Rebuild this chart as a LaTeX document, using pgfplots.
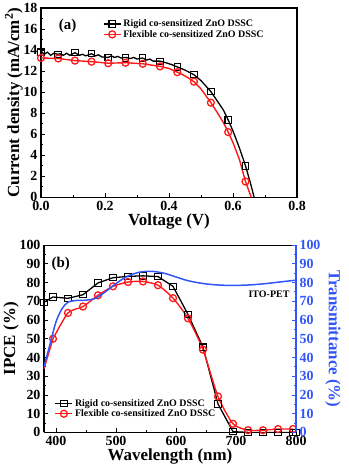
\documentclass[border=0pt]{standalone}
\usepackage{fontspec}
\setmainfont{Liberation Serif}
\usepackage{pgfplots}
\pgfplotsset{compat=1.18}
\definecolor{myred}{RGB}{255,25,25}
\definecolor{myblue}{RGB}{50,85,250}
\begin{document}
\begin{tikzpicture}[x=1pt,y=1pt]
\path (0,0) rectangle (349,468);
\pgfplotsset{
  every axis/.append style={
    scale only axis,
    font=\bfseries,
    tick label style={font=\fontsize{14}{14}\bfseries},
    label style={font=\fontsize{17}{17}\bfseries},
    /pgf/number format/assume math mode=true,
    tick align=inside,
    major tick length=4pt, minor tick length=2.5pt,
    every tick/.style={line width=0.9pt},
    axis line style={line width=1.2pt},
    minor tick num=1,
  },
  mylegend/.style={legend cell align=left, draw=none, fill=none,
    font=\fontsize{10}{11}\bfseries, row sep=-2pt,
    /tikz/every even column/.append style={column sep=1pt}},
}
% ---------------- (a) J-V ----------------
\begin{axis}[
  at={(40pt,271pt)}, anchor=south west,
  width=257pt, height=190pt,
  xmin=0, xmax=0.8, ymin=0, ymax=18,
  xtick={0,0.2,0.4,0.6,0.8}, ytick={0,2,...,18},
  xticklabel style={/pgf/number format/.cd, fixed, fixed zerofill, precision=1},
  xtick pos=left, ytick pos=left,
  xlabel={Voltage (V)}, ylabel={Current density (mA/cm$^{\mathbf{2}}$)},
  xlabel style={yshift=3pt}, ylabel style={yshift=-6pt},
  legend style={mylegend, at={(0.23,0.96)}, anchor=north west},
  clip=true,
]
\addlegendimage{black, line width=1.3pt, mark=square, mark size=3.2pt, mark options={line width=1.1pt}}
\addlegendentry{Rigid co-sensitized ZnO DSSC}
\addlegendimage{myred, line width=1.3pt, mark=o, mark size=3.5pt, mark options={line width=1.3pt}}
\addlegendentry{Flexible co-sensitized ZnO DSSC}
% rigid line (noisy)
\addplot[black, line width=1.3pt] coordinates {
 (0,13.9)(0.01,13.6)(0.02,13.8)(0.03,13.5)(0.04,13.7)(0.053,13.6)(0.06,13.65)(0.07,13.5)
 (0.08,13.7)(0.09,13.5)(0.106,13.75)(0.12,13.5)(0.13,13.6)(0.14,13.45)(0.158,13.65)(0.17,13.45)
 (0.18,13.55)(0.19,13.35)(0.21,13.3)(0.22,13.45)(0.23,13.3)(0.24,13.4)(0.25,13.25)(0.264,13.3)
 (0.28,13.2)(0.29,13.3)(0.30,13.15)(0.318,13.25)(0.33,13.05)(0.34,13.15)(0.35,12.95)(0.372,12.95)
 (0.39,12.8)(0.41,12.6)(0.426,12.4)(0.45,12.1)(0.478,11.65)(0.50,11.1)(0.531,10.05)(0.55,9.2)
 (0.57,8.3)(0.585,7.35)(0.60,6.3)(0.62,4.7)(0.639,3.0)(0.655,1.3)(0.666,0)};
\addplot[black, only marks, mark=square, mark size=3.2pt, mark options={line width=1.1pt}] coordinates {
 (0,13.8)(0.053,13.6)(0.106,13.78)(0.158,13.69)(0.21,13.3)(0.264,13.25)(0.318,13.25)(0.372,12.9)(0.426,12.4)
 (0.478,11.66)(0.531,10.04)(0.585,7.35)(0.639,2.98)};
% flexible
\addplot[myred, line width=1.4pt] coordinates {
 (0,13.25)(0.054,13.2)(0.106,13.0)(0.158,12.9)(0.21,12.75)(0.264,12.8)(0.318,12.7)(0.372,12.45)
 (0.40,12.25)(0.426,11.9)(0.45,11.55)(0.478,11.0)(0.50,10.3)(0.531,9.0)(0.55,8.1)(0.57,7.1)
 (0.585,6.2)(0.60,5.2)(0.62,3.6)(0.639,1.5)(0.657,0)};
\addplot[myred, only marks, mark=o, mark size=3.5pt, mark options={line width=1.3pt}] coordinates {
 (0,13.25)(0.054,13.2)(0.106,13.0)(0.158,12.9)(0.21,12.75)(0.264,12.8)(0.318,12.7)(0.372,12.45)
 (0.426,11.9)(0.478,11.0)(0.531,9.0)(0.585,6.2)(0.639,1.5)};
\node[font=\fontsize{15}{15}\bfseries] at (axis cs:0.083,16.3) {(a)};
\end{axis}
% ---------------- (b) IPCE ----------------
\begin{axis}[
  at={(43pt,35pt)}, anchor=south west,
  width=253pt, height=188pt,
  xmin=380, xmax=800, ymin=0, ymax=100,
  xtick={400,500,...,800}, ytick={0,10,...,100},
  axis y line*=left, axis x line*=bottom,
  xlabel={Wavelength (nm)}, ylabel={IPCE (\%)},
  xlabel style={yshift=3pt}, ylabel style={yshift=-6pt},
  legend style={mylegend, at={(0.03,0.2)}, anchor=north west},
]
\addlegendimage{black, line width=1.3pt, mark=square, mark size=3.2pt, mark options={line width=1.1pt}}
\addlegendentry{Rigid co-sensitized ZnO DSSC}
\addlegendimage{myred, line width=1.3pt, mark=o, mark size=3.5pt, mark options={line width=1.3pt}}
\addlegendentry{Flexible co-sensitized ZnO DSSC}
\addplot[black, line width=1.3pt, mark=square, mark size=3.2pt, mark options={line width=1.1pt}] coordinates {
 (380,69.5)(395,72.3)(420,71.6)(445,73.5)(470,79.8)(495,82.6)(520,83.3)(545,83.6)(570,83.2)
 (595,78.0)(620,63.0)(645,45.5)(670,15.2)(695,0.4)(720,0)(745,0)(770,0)(795,0)(800,0)};
\addplot[myred, line width=1.4pt, smooth, tension=0.4, mark=o, mark size=3.5pt, mark options={line width=1.3pt}] coordinates {
 (395,50.0)(420,63.8)(445,67.2)(470,73.2)(495,78.0)(520,80.3)(545,80.6)(570,78.6)
 (595,71.7)(620,60.9)(645,44.2)(670,19.2)(695,4.6)(720,1.2)(745,1.2)(770,1.8)(795,1.8)};
\addplot[myred, line width=1.4pt] coordinates {(380,34)(395,50.0)};
\draw[line width=1.2pt] (rel axis cs:0,1) -- (rel axis cs:1,1);
\node[font=\fontsize{15}{15}\bfseries] at (axis cs:408,90) {(b)};
\node[font=\fontsize{10}{10}\bfseries] at (axis cs:755,74) {ITO-PET};
\end{axis}
\begin{axis}[
  at={(43pt,35pt)}, anchor=south west,
  width=253pt, height=188pt,
  xmin=380, xmax=800, ymin=0, ymax=100,
  ytick={0,10,...,100},
  axis y line*=right, axis x line=none,
  y axis line style={myblue, line width=1.2pt},
  ytick style={myblue},
  yticklabel style={myblue},
  ylabel={Transmittance (\%)},
  ylabel style={myblue, rotate=180, yshift=-2pt},
]
\addplot[myblue, line width=1.5pt, smooth] coordinates {
 (380,35)(390,47)(400,59)(410,66)(420,69.5)(435,70.5)(450,70.6)(465,71.5)(480,74.5)
 (500,79.5)(520,83.5)(540,85.6)(560,86)(580,85)(600,83)(620,81)(645,79.5)(670,78.7)
 (695,78.5)(720,78.7)(745,79.3)(770,80.2)(800,81.3)};
\end{axis}
\end{tikzpicture}
\end{document}
